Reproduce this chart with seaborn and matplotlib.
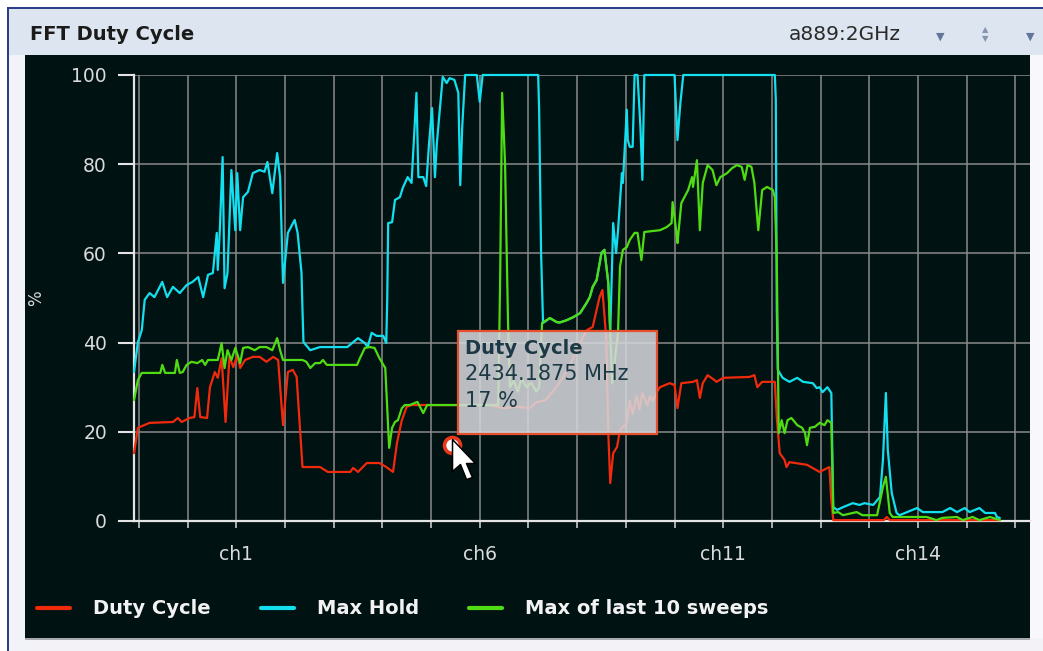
import numpy as np
import pandas as pd
import matplotlib
matplotlib.use('Agg')
import matplotlib.pyplot as plt
from matplotlib.patches import Rectangle
from matplotlib.path import Path
from matplotlib.offsetbox import AnnotationBbox, DrawingArea
import seaborn as sns

# --- данные (МГц, %) ---
duty_mhz = [2401.5, 2401.9, 2403.1, 2405.5, 2406.0, 2406.4, 2407.2, 2407.7, 2408.0, 2408.3,
            2409.0, 2409.3, 2409.8, 2410.1, 2410.5, 2410.9, 2411.3, 2411.7, 2412.1, 2412.4,
            2412.9, 2413.7, 2414.4, 2415.1, 2415.8, 2416.3, 2416.8, 2417.3, 2417.8, 2418.2,
            2418.8, 2420.6, 2421.4, 2423.7, 2424.0, 2424.5, 2425.4, 2426.7, 2427.4, 2428.1,
            2428.5, 2429.0, 2429.5, 2430.0, 2438.0, 2439.5, 2440.8, 2442.1, 2442.9, 2443.7,
            2444.5, 2445.5, 2446.5, 2447.3, 2448.0, 2448.6, 2449.3, 2449.6, 2450.0, 2450.2,
            2450.4, 2450.7, 2451.1, 2451.4, 2452.1, 2452.4, 2452.7, 2453.1, 2453.4, 2453.7,
            2454.2, 2454.5, 2454.8, 2455.2, 2455.5, 2456.5, 2457.0, 2457.3, 2457.7, 2458.9,
            2459.3, 2459.6, 2459.9, 2460.4, 2461.1, 2461.3, 2462.0, 2464.7, 2465.2, 2465.5,
            2466.0, 2467.3, 2467.5, 2467.8, 2468.3, 2468.5, 2468.8, 2470.6, 2471.9, 2472.9,
            2473.1, 2473.3, 2478.5, 2478.8, 2479.1, 2490.4]
duty_pct = [15.2, 20.9, 22.0, 22.2, 23.1, 22.2, 23.1, 23.3, 29.8, 23.3,
            23.1, 30.0, 33.4, 32.1, 36.5, 22.2, 36.8, 34.5, 37.2, 34.3,
            36.1, 36.8, 36.8, 35.7, 36.8, 36.1, 21.5, 33.4, 33.9, 32.3,
            12.1, 12.1, 11.0, 11.0, 11.9, 11.0, 13.0, 13.0, 12.1, 11.0,
            17.5, 22.6, 25.6, 26.0, 26.0, 25.3, 25.6, 25.3, 26.7, 27.0,
            29.0, 32.0, 36.0, 40.0, 42.8, 43.5, 50.2, 51.8, 40.6, 19.7,
            8.5, 15.2, 16.6, 20.4, 22.0, 27.0, 24.0, 28.0, 25.0, 28.7,
            26.0, 28.0, 27.0, 29.0, 30.0, 30.9, 30.5, 25.3, 30.9, 31.2,
            31.6, 27.6, 30.9, 32.7, 31.6, 31.2, 32.1, 32.3, 32.7, 30.0,
            31.2, 31.2, 23.3, 15.2, 13.7, 12.1, 13.2, 12.6, 11.0, 12.1,
            4.5, 0.2, 0.2, 0.9, 0.2, 0.2]

hold_mhz = [2401.5, 2401.9, 2402.3, 2402.6, 2403.1, 2403.6, 2404.4, 2404.9, 2405.5, 2406.2,
            2406.9, 2407.5, 2408.1, 2408.6, 2409.1, 2409.6, 2410.0, 2410.1, 2410.3, 2410.6,
            2410.8, 2411.1, 2411.5, 2411.9, 2412.1, 2412.4, 2412.7, 2413.2, 2413.7, 2414.4,
            2414.9, 2415.2, 2415.7, 2416.2, 2416.5, 2416.8, 2417.3, 2418.0, 2418.3, 2418.7,
            2418.8, 2418.9, 2419.6, 2420.6, 2423.4, 2423.9, 2424.5, 2425.2, 2425.5, 2425.9,
            2426.4, 2427.1, 2427.4, 2427.5, 2427.6, 2428.0, 2428.3, 2428.8, 2429.1, 2429.6,
            2430.0, 2430.5, 2430.7, 2431.2, 2431.5, 2431.8, 2432.1, 2432.4, 2432.6, 2432.9,
            2433.2, 2433.6, 2433.9, 2434.4, 2434.8, 2435.0, 2435.2, 2435.5, 2436.7, 2437.0,
            2437.3, 2443.0, 2443.1, 2443.3, 2443.5, 2444.2, 2444.9, 2445.2, 2445.9, 2446.6,
            2447.3, 2448.0, 2448.3, 2448.6, 2449.0, 2449.5, 2449.8, 2450.2, 2450.4, 2450.7,
            2451.0, 2451.2, 2451.6, 2451.7, 2452.1, 2452.2, 2452.4, 2452.7, 2452.9, 2453.2,
            2453.5, 2453.7, 2453.9, 2457.0, 2457.3, 2457.6, 2457.9, 2467.3, 2467.4, 2467.5,
            2467.6, 2468.1, 2468.8, 2469.6, 2470.2, 2471.2, 2471.6, 2471.9, 2472.2, 2472.7,
            2473.1, 2473.3, 2473.7, 2474.3, 2475.3, 2476.0, 2476.5, 2477.4, 2478.1, 2478.4,
            2478.7, 2478.9, 2479.3, 2479.8, 2480.1, 2480.9, 2481.9, 2482.5, 2484.5, 2485.3,
            2486.0, 2486.8, 2487.3, 2488.3, 2488.9, 2489.9, 2490.1, 2490.4]
hold_pct = [33.4, 40.1, 42.8, 49.6, 51.1, 50.2, 53.6, 50.2, 52.5, 51.1,
            52.9, 53.6, 54.7, 50.2, 55.2, 55.6, 64.6, 56.3, 64.6, 81.6,
            52.2, 55.6, 78.7, 65.2, 78.0, 65.2, 72.6, 73.8, 78.0, 78.7,
            78.3, 80.5, 73.5, 82.5, 77.1, 53.4, 64.6, 67.5, 64.6, 55.6,
            47.3, 40.1, 38.3, 39.0, 39.0, 39.9, 41.0, 39.9, 39.0, 42.2,
            41.5, 41.5, 39.9, 49.6, 66.8, 67.0, 72.0, 72.6, 74.7, 77.1,
            75.8, 96.0, 77.1, 77.1, 75.1, 84.8, 92.6, 77.1, 84.8, 92.2,
            99.6, 98.2, 99.3, 98.9, 96.0, 75.3, 88.3, 100, 100, 94.0,
            100, 100, 92.0, 60.0, 44.4, 45.5, 44.6, 44.5, 45.0, 45.7,
            46.6, 49.0, 50.2, 52.5, 54.0, 60.1, 60.8, 53.4, 42.2, 66.8,
            60.1, 65.2, 78.0, 75.8, 92.2, 85.4, 83.9, 83.9, 100, 100,
            88.3, 76.5, 100, 100, 85.4, 93.7, 100, 100, 94.4, 47.3,
            33.9, 32.1, 31.2, 32.1, 31.2, 30.9, 29.8, 30.0, 28.9, 30.0,
            28.7, 3.1, 2.5, 3.1, 4.0, 3.6, 4.0, 3.6, 5.4, 13.7,
            28.7, 15.9, 6.3, 1.8, 1.3, 2.0, 2.9, 2.0, 2.0, 2.9,
            2.0, 2.9, 2.0, 2.9, 1.8, 1.8, 0.9, 0.7]

last10_mhz = [2401.5, 2401.9, 2402.3, 2404.2, 2404.4, 2404.7, 2405.7, 2405.9, 2406.2, 2406.5,
              2406.9, 2407.4, 2408.0, 2408.5, 2408.8, 2409.1, 2410.1, 2410.5, 2410.8, 2411.1,
              2411.5, 2411.9, 2412.4, 2412.7, 2413.2, 2413.9, 2414.4, 2415.1, 2415.7, 2416.2,
              2416.5, 2416.8, 2418.8, 2419.2, 2419.6, 2420.1, 2420.6, 2420.9, 2421.3, 2424.4,
              2424.7, 2425.2, 2425.7, 2426.2, 2426.7, 2427.3, 2427.7, 2428.0, 2428.3, 2428.6,
              2429.0, 2429.3, 2429.8, 2430.6, 2431.2, 2431.6, 2438.9, 2439.1, 2439.3, 2439.6,
              2439.9, 2440.1, 2440.5, 2440.9, 2441.3, 2441.8, 2442.3, 2442.8, 2443.1, 2443.4,
              2444.2, 2444.9, 2445.2, 2445.9, 2446.6, 2447.3, 2448.0, 2448.3, 2448.6, 2449.0,
              2449.5, 2449.8, 2450.2, 2450.6, 2451.2, 2451.4, 2451.7, 2452.1, 2452.4, 2452.9,
              2453.2, 2453.6, 2453.9, 2455.5, 2456.2, 2456.7, 2456.8, 2457.2, 2457.3, 2457.7,
              2458.4, 2458.8, 2458.9, 2459.3, 2459.6, 2459.9, 2460.4, 2460.9, 2461.3, 2461.7,
              2462.4, 2462.9, 2463.4, 2463.9, 2464.2, 2464.5, 2464.9, 2465.2, 2465.6, 2466.0,
              2466.5, 2467.1, 2467.3, 2467.5, 2467.6, 2467.7, 2468.0, 2468.3, 2468.6, 2469.0,
              2469.6, 2470.1, 2470.4, 2470.6, 2470.9, 2471.4, 2471.9, 2472.4, 2472.7, 2473.1,
              2473.3, 2473.8, 2474.3, 2475.7, 2476.3, 2477.8, 2478.4, 2478.7, 2479.1, 2479.4,
              2482.9, 2483.9, 2484.5, 2486.0, 2486.6, 2487.6, 2488.3, 2489.4, 2490.4]
last10_pct = [27.1, 31.6, 33.2, 33.2, 35.0, 33.2, 33.2, 36.1, 33.2, 33.4,
              35.0, 35.7, 35.4, 36.1, 35.0, 36.1, 36.1, 39.9, 34.3, 38.3,
              36.1, 38.8, 35.4, 38.8, 39.0, 38.3, 39.0, 39.0, 38.3, 41.0,
              38.3, 36.1, 36.1, 35.7, 34.3, 35.4, 35.4, 36.1, 35.0, 35.0,
              36.5, 38.8, 39.0, 38.8, 36.5, 34.3, 16.4, 20.9, 22.2, 22.6,
              25.3, 26.0, 26.0, 26.7, 24.2, 26.0, 26.0, 55.0, 96.0, 80.0,
              45.0, 30.0, 31.5, 29.0, 32.0, 30.0, 31.0, 29.0, 30.0, 44.4,
              45.5, 44.6, 44.5, 45.0, 45.7, 46.6, 49.0, 50.2, 52.5, 54.0,
              60.1, 60.8, 53.4, 30.9, 42.2, 57.0, 60.8, 61.4, 63.0, 64.6,
              64.6, 58.5, 64.8, 65.2, 65.9, 66.8, 71.5, 64.6, 62.3, 71.3,
              74.2, 77.1, 74.9, 80.9, 65.2, 75.8, 79.8, 78.7, 75.3, 77.1,
              78.0, 79.1, 79.8, 79.4, 76.5, 79.8, 79.4, 75.8, 65.2, 74.2,
              74.9, 74.2, 72.6, 58.5, 40.0, 19.7, 22.6, 19.7, 22.6, 23.1,
              21.5, 20.9, 19.7, 17.0, 20.9, 21.1, 22.0, 21.5, 22.6, 22.0,
              1.8, 2.0, 1.3, 2.0, 1.3, 1.3, 7.6, 9.9, 1.8, 0.9,
              0.9, 0.2, 0.7, 0.9, 0.2, 0.9, 0.2, 0.9, 0.2]

# сетка по частоте и подписи каналов
grid_mhz = list(range(2402, 2493, 5))
channel_ticks = {2412: 'ch1', 2437: 'ch6', 2462: 'ch11', 2482: 'ch14'}
y_ticks = [0, 20, 40, 60, 80, 100]

# точка под курсором (всплывающая подсказка)
hover_name = 'Duty Cycle'
hover_mhz = 2434.1875
hover_pct = 17

series_names = ['Duty Cycle', 'Max Hold', 'Max of last 10 sweeps']
series_colors = ['#f22a0c', '#14dfee', '#4fdc12']

# --- оформление ---
W, H = 1043, 651
PANEL = '#011213'

sns.set_theme(style='dark')
plt.rcParams['font.family'] = ['DejaVu Sans']

fig = plt.figure(figsize=(W / 100, H / 100), dpi=100, facecolor='white')


def px_box(x0, y0, x1, y1, color):
    # прямоугольник в пикселях картинки (y сверху вниз)
    fig.add_artist(Rectangle((x0 / W, 1 - y1 / H), (x1 - x0) / W, (y1 - y0) / H,
                             transform=fig.transFigure, facecolor=color,
                             edgecolor='none', zorder=-5))


# рамка окна и шапка
px_box(7, 7, W, 9, '#2c3d8c')
px_box(7, 7, 9, H, '#2c3d8c')
px_box(9, 9, W, 55, '#dce5f0')
px_box(9, 55, 25, H, '#f2f2f9')
px_box(1030, 55, W, H, '#f8f8fc')
px_box(25, 638, W, H, '#f3f3f7')
px_box(25, 638, 1030, 640, '#a8a8b0')
px_box(25, 55, 1030, 638, PANEL)

fig.text(30 / W, 1 - 34 / H, 'FFT Duty Cycle', fontsize=14, fontweight='bold',
         color='#1b1b1b', ha='left', va='center')
fig.text(789 / W, 1 - 35 / H, 'a889:2GHz', fontsize=14.5, color='#2a2a2a',
         ha='left', va='center')
fig.text(940 / W, 1 - 37 / H, '\u25bc', fontsize=8, color='#62769a', ha='center', va='center')
fig.text(985 / W, 1 - 30 / H, '\u25b2', fontsize=6, color='#8696b0', ha='center', va='center')
fig.text(985 / W, 1 - 39 / H, '\u25bc', fontsize=6, color='#8696b0', ha='center', va='center')
fig.text(1030 / W, 1 - 37 / H, '\u25bc', fontsize=8, color='#62769a', ha='center', va='center')

ax = fig.add_axes([134 / W, 1 - 521 / H, (1030 - 134) / W, (521 - 75) / H])
ax.set_facecolor(PANEL)

frames = [
    pd.DataFrame({'mhz': duty_mhz, 'pct': duty_pct}),
    pd.DataFrame({'mhz': hold_mhz, 'pct': hold_pct}),
    pd.DataFrame({'mhz': last10_mhz, 'pct': last10_pct}),
]
for df, name, col in zip(frames, series_names, series_colors):
    sns.lineplot(data=df, x='mhz', y='pct', ax=ax, color=col, linewidth=1.6,
                 sort=False, estimator=None, label=name, clip_on=False, zorder=3)

ax.set_xlim(2401.5, 2493.5)
ax.set_ylim(0, 100)
ax.set_xticks(grid_mhz)
ax.set_xticklabels([channel_ticks.get(m, '') for m in grid_mhz])
ax.set_yticks(y_ticks)
ax.grid(True, color='#8a8a8a', linewidth=1.1)
ax.set_axisbelow(True)

for s in ['top', 'right']:
    ax.spines[s].set_visible(False)
for s in ['left', 'bottom']:
    ax.spines[s].set_visible(True)
    ax.spines[s].set_color('#e4e4e4')
    ax.spines[s].set_linewidth(1.6)
    ax.spines[s].set_zorder(2.5)

ax.tick_params(axis='y', direction='out', length=11.5, width=1.5, color='#e4e4e4',
               pad=8, labelsize=13.5, labelcolor='#dadada', left=True)
ax.tick_params(axis='x', direction='out', length=5, width=1.2, color='#c8c8c8',
               pad=12, labelsize=13.5, labelcolor='#dadada', bottom=True)

ax.set_xlabel('')
ax.set_ylabel('%', fontsize=12, color='#dadada')
ax.yaxis.set_label_coords((45 - 134) / 896, 0.5)

# легенда под графиком
leg = ax.legend(loc='center left', bbox_to_anchor=(37 / W, 1 - 609 / H),
                bbox_transform=fig.transFigure, ncol=3, frameon=False,
                fontsize=14, handlelength=1.7, handletextpad=1.2,
                columnspacing=2.55, borderpad=0, borderaxespad=0)
for t in leg.get_texts():
    t.set_color('#f2f2f2')
    t.set_fontweight('bold')
for h in leg.legend_handles:
    h.set_linewidth(3)

# всплывающая подсказка
pt = 0.72  # пикселей -> пунктов
bw, bh = 199 * pt, 103 * pt
da = DrawingArea(bw, bh, 0, 0)
da.add_artist(Rectangle((0, 0), bw, bh, facecolor=(0.85, 0.85, 0.87, 0.86),
                        edgecolor='#e5502d', linewidth=1.6))
da.add_artist(plt.Text(7 * pt, bh - 17 * pt, hover_name, fontsize=14, fontweight='bold',
                       color='#1c3945', va='center', ha='left'))
da.add_artist(plt.Text(7 * pt, bh - 43 * pt, f'{hover_mhz} MHz', fontsize=15,
                       color='#1c3945', va='center', ha='left'))
da.add_artist(plt.Text(7 * pt, bh - 70 * pt, f'{hover_pct} %', fontsize=15,
                       color='#1c3945', va='center', ha='left'))
ab = AnnotationBbox(da, (hover_mhz, hover_pct), xybox=(6 * pt, 114 * pt),
                    xycoords='data', boxcoords='offset points', box_alignment=(0, 1),
                    frameon=False, pad=0, zorder=6)
ax.add_artist(ab)

ax.plot([hover_mhz], [hover_pct], marker='o', markersize=11.5, markerfacecolor='white',
        markeredgecolor='#e8381a', markeredgewidth=2.6, zorder=7, clip_on=False)

cursor = Path([(0, 3), (0, -13), (4, -9.5), (7, -17), (10, -16), (7, -9), (11.5, -9), (0, 3)])
ax.plot([hover_mhz], [hover_pct], marker=cursor, markersize=49, markerfacecolor='white',
        markeredgecolor='black', markeredgewidth=1.1, zorder=8, clip_on=False)

fig.savefig('out.png', dpi=100, facecolor=fig.get_facecolor())
